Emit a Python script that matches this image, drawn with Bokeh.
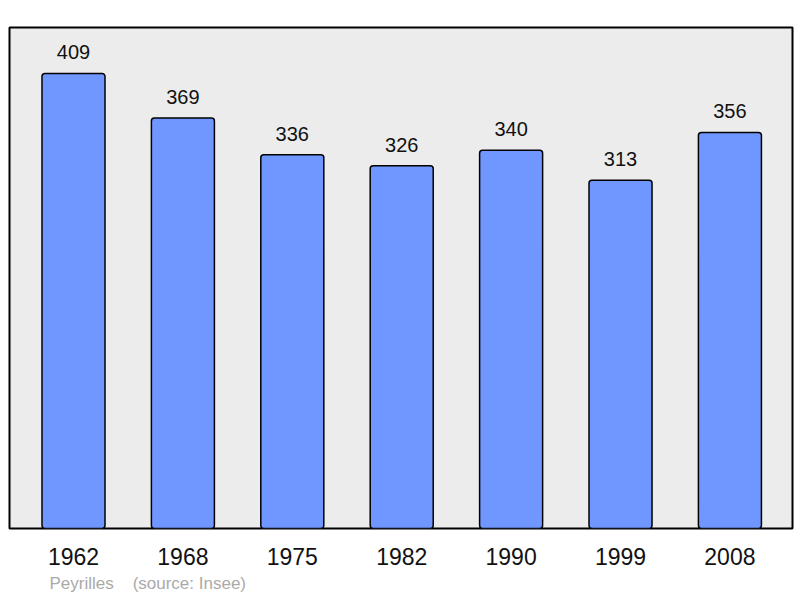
from bokeh.plotting import figure
from bokeh.models import ColumnDataSource, FixedTicker, Range1d, Title
from bokeh.core.properties import value
from bokeh.embed import file_html
from bokeh.resources import INLINE

years = ["1962", "1968", "1975", "1982", "1990", "1999", "2008"]
population = [409, 369, 336, 326, 340, 313, 356]
commune = "Peyrilles"
source_text = "(source: Insee)"

xs = list(range(len(years)))
src = ColumnDataSource(dict(x=xs, top=population, label=[str(v) for v in population]))

p = figure(width=800, height=598, output_backend="svg", toolbar_location=None,
           x_range=Range1d(-0.585, 6.572), y_range=Range1d(0, 450.3),
           min_border_left=9, min_border_top=27, min_border_right=8, min_border_bottom=70)
p.background_fill_color = "#ececec"
p.border_fill_color = "white"
p.outline_line_color = "black"
p.outline_line_width = 2
p.grid.visible = False
p.yaxis.visible = False

p.vbar(x="x", top="top", bottom=0, width=0.576, source=src,
       fill_color="#7097ff", line_color="black", line_width=1.5, border_radius=3)
p.text(x="x", y="top", text="label", source=src, y_offset=-21,
       text_align="center", text_baseline="alphabetic",
       text_font=value("Liberation Sans"), text_font_size="20px", text_color="#111111")

ax = p.xaxis[0]
ax.ticker = FixedTicker(ticks=xs)
ax.major_label_overrides = {i: y for i, y in zip(xs, years)}
ax.axis_line_color = None
ax.major_tick_line_color = None
ax.minor_tick_line_color = None
ax.major_tick_out = 0
ax.major_tick_in = 0
ax.major_label_standoff = 19
ax.major_label_text_font = "Liberation Sans"
ax.major_label_text_font_size = "23px"
ax.major_label_text_color = "#111111"

footer = commune + "\u00a0" * 4 + source_text
p.add_layout(Title(text=footer, align="left", offset=40, standoff=8,
                   text_font="Liberation Sans", text_font_size="17px",
                   text_font_style="normal", text_color="#aaaaaa"), "below")

open("out.html", "w").write(file_html(p, INLINE))
